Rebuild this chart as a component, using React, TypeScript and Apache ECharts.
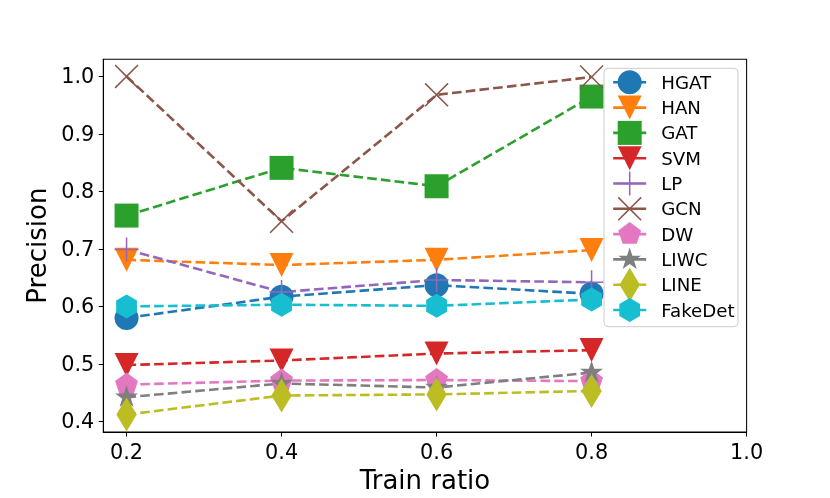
import React, { useEffect, useRef } from "react";
import * as echarts from "echarts";

const trainRatios = [0.2, 0.4, 0.6, 0.8];
const seriesNames = ["HGAT", "HAN", "GAT", "SVM", "LP", "GCN", "DW", "LIWC", "LINE", "FakeDet"];
const hgatValues = [0.58, 0.617, 0.637, 0.622];
const hanValues = [0.681, 0.672, 0.681, 0.698];
const gatValues = [0.758, 0.841, 0.809, 0.965];
const svmValues = [0.498, 0.506, 0.518, 0.524];
const lpValues = [0.699, 0.625, 0.646, 0.642];
const gcnValues = [1.0, 0.748, 0.968, 0.999];
const dwValues = [0.464, 0.471, 0.472, 0.47];
const liwcValues = [0.442, 0.466, 0.459, 0.485];
const lineValues = [0.412, 0.445, 0.447, 0.453];
const fakeDetValues = [0.6, 0.603, 0.601, 0.612];
const xTicks = [0.2, 0.4, 0.6, 0.8, 1.0];
const yTicks = [0.4, 0.5, 0.6, 0.7, 0.8, 0.9, 1.0];

const allValues = [hgatValues, hanValues, gatValues, svmValues, lpValues, gcnValues, dwValues, liwcValues, lineValues, fakeDetValues];
const colors = ["#1f77b4", "#ff7f0e", "#2ca02c", "#d62728", "#9467bd", "#8c564b", "#e377c2", "#7f7f7f", "#bcbd22", "#17becf"];

// all marker paths share a 100x100 box (anchored by the two moveTo points)
const A = "M0 0 M100 100 ";
const symCircle = "path://" + A + "M50 16.67 A33.33 33.33 0 1 1 50 83.33 A33.33 33.33 0 1 1 50 16.67 Z";
const symTriDown = "path://" + A + "M16.67 16.67 L83.33 16.67 L50 83.33 Z";
const symSquare = "path://" + A + "M16.67 16.67 L83.33 16.67 L83.33 83.33 L16.67 83.33 Z";
const symPlus = "path://" + A + "M47.9 16.67 L52.1 16.67 L52.1 47.9 L83.33 47.9 L83.33 52.1 L52.1 52.1 L52.1 83.33 L47.9 83.33 L47.9 52.1 L16.67 52.1 L16.67 47.9 L47.9 47.9 Z";
const symX = "path://" + A + "M16.67 19.67 L19.67 16.67 L50 47 L80.33 16.67 L83.33 19.67 L53 50 L83.33 80.33 L80.33 83.33 L50 53 L19.67 83.33 L16.67 80.33 L47 50 Z";
const symPentagon = "path://" + A + "M50 16.67 L81.7 39.7 L69.6 76.97 L30.4 76.97 L18.3 39.7 Z";
const symStar = "path://" + A + "M50 16.67 L57.48 39.7 L81.7 39.7 L62.11 53.93 L69.59 76.97 L50 62.73 L30.41 76.97 L37.89 53.93 L18.3 39.7 L42.52 39.7 Z";
const symThinDiamond = "path://" + A + "M50 2.8 L78.3 50 L50 97.2 L21.7 50 Z";
const symHexagon = "path://" + A + "M50 16.67 L78.87 33.33 L78.87 66.67 L50 83.33 L21.13 66.67 L21.13 33.33 Z";
const symbols = [symCircle, symTriDown, symSquare, symTriDown, symPlus, symX, symPentagon, symStar, symThinDiamond, symHexagon];

const FONT = "DejaVu Sans";

export default function App() {
  const ref = useRef<HTMLDivElement>(null);
  useEffect(() => {
    if (!ref.current) return;
    const chart = echarts.init(ref.current, null, { renderer: "svg" });
    const series = seriesNames.map((name, s) => ({
      name,
      type: "line",
      data: trainRatios.map((x, i) => [x, allValues[s][i]]),
      symbol: symbols[s],
      symbolSize: 36,
      showAllSymbol: true,
      lineStyle: { color: colors[s], width: 2.6, type: [9.6, 4.2] },
      itemStyle: { color: colors[s] },
      emphasis: { disabled: true },
      z: 2,
    }));
    chart.setOption({
      animation: false,
      grid: { left: 103.3, right: 83.4, top: 59.3, bottom: 63, show: true, borderColor: "#000", borderWidth: 1.04, containLabel: false },
      xAxis: {
        type: "value",
        min: 0.17,
        max: 1.0,
        name: "Train ratio",
        nameLocation: "middle",
        nameGap: 35,
        nameTextStyle: { fontFamily: FONT, fontSize: 26, color: "#000" },
        axisLine: { show: true, lineStyle: { color: "#000", width: 1.04 } },
        axisTick: { show: true, length: 4.5, lineStyle: { color: "#000", width: 1.04 }, customValues: xTicks },
        axisLabel: { fontFamily: FONT, fontSize: 20.8, color: "#000", margin: 9, customValues: xTicks, formatter: (v: number) => v.toFixed(1) },
        splitLine: { show: false },
      },
      yAxis: {
        type: "value",
        min: 0.3816,
        max: 1.0298,
        name: "Precision",
        nameLocation: "middle",
        nameGap: 49,
        nameTextStyle: { fontFamily: FONT, fontSize: 26, color: "#000" },
        axisLine: { show: true, lineStyle: { color: "#000", width: 1.04 } },
        axisTick: { show: true, length: 4.5, lineStyle: { color: "#000", width: 1.04 }, customValues: yTicks },
        axisLabel: { fontFamily: FONT, fontSize: 20.8, color: "#000", margin: 9, customValues: yTicks, formatter: (v: number) => v.toFixed(1) },
        splitLine: { show: false },
      },
      legend: {
        orient: "vertical",
        left: 611.7,
        top: 64.3,
        padding: 0,
        itemWidth: 33,
        itemHeight: 45,
        itemGap: -10.7,
        data: seriesNames,
        lineStyle: { type: "solid", width: 2.6 },
        textStyle: { fontFamily: FONT, fontSize: 18.2, color: "#000", padding: [0, 0, 0, 10] },
        selectedMode: false,
      },
      graphic: [
        {
          type: "rect",
          z: 3,
          shape: { x: 604, y: 68.3, width: 134, height: 258.4, r: 4 },
          style: { fill: "rgba(255,255,255,0.8)", stroke: "#cccccc", lineWidth: 1 },
          silent: true,
        },
      ],
      series,
    });
    return () => chart.dispose();
  }, []);
  return <div ref={ref} style={{ position: "fixed", left: 0, top: 0, width: 830, height: 498 }} />;
}
